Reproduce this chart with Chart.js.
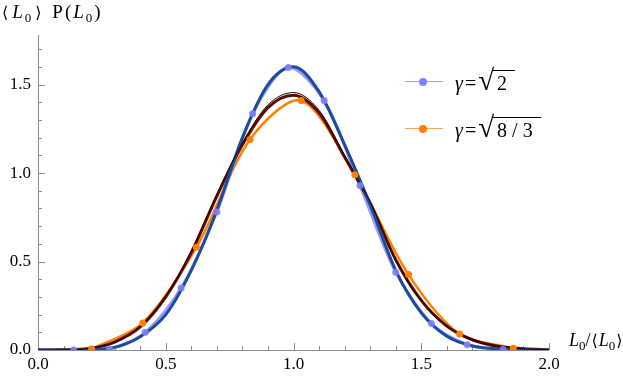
<!DOCTYPE html>
<html>
<head>
<meta charset="utf-8">
<script src="https://cdn.jsdelivr.net/npm/chart.js@4.4.1/dist/chart.umd.min.js"></script>
<style>
html, body { margin: 0; padding: 0; background: #fff; }
#wrap { position: relative; width: 623px; height: 378px; }
#wrap canvas { position: absolute; left: 0; top: 0; }
.lbl { position: absolute; font-family: 'Liberation Serif', 'Times New Roman', serif; font-size: 19px; color: #000; white-space: nowrap; line-height: 1; }
.lbl sub { font-size: 13px; vertical-align: -4px; line-height: 0; }
.ang { font-family: 'DejaVu Serif', serif; font-size: 16px; margin: 0 1px; }
.top .ang { margin: 0 2px; }
.leg { font-size: 20px; }
.eq { margin: 0 2px; }
.rt { font-size: 29px; line-height: 0; }
.rad { position: relative; padding: 0 8px 0 3px; }
.rad::before { content: ''; position: absolute; left: -1px; right: 0; top: -2px; border-top: 1.3px solid #000; }
.sw { position: absolute; height: 0; }
.dot { position: absolute; width: 8px; height: 8px; border-radius: 50%; }
</style>
</head>
<body>
<div id="wrap">
  <canvas id="chart" width="623" height="378"></canvas>
  <div class="lbl top" style="left:0px;top:2px;letter-spacing:2px"><span class="ang">⟨</span><i>L</i><sub>0</sub><span class="ang">⟩</span>&nbsp;P(<i>L</i><sub>0</sub>)</div>
  <div class="lbl" style="left:569px;top:331px;font-size:18px"><i>L</i><sub>0</sub>/<span class="ang">⟨</span><i>L</i><sub>0</sub><span class="ang">⟩</span></div>

  <div class="sw" style="left:405px;top:81px;width:38px;border-top:1.5px solid #9a9aff"></div>
  <div class="dot" style="left:419px;top:78px;background:#8080ff"></div>
  <div class="lbl leg" style="left:455px;top:73px"><i>γ</i><span class="eq">=</span><span class="rt">√</span><span class="rad">2</span></div>

  <div class="sw" style="left:405px;top:128px;width:38px;border-top:1.5px solid #ffa54d"></div>
  <div class="dot" style="left:419px;top:125px;background:#ff8000"></div>
  <div class="lbl leg" style="left:455px;top:120px"><i>γ</i><span class="eq">=</span><span class="rt">√</span><span class="rad">8 / 3</span></div>
</div>
<script>
// simulation points
const blueX = [0.14, 0.28, 0.42, 0.56, 0.70, 0.84, 0.98, 1.12, 1.26, 1.40, 1.54, 1.68, 1.82];
const blueY = [0.0, 0.005, 0.10, 0.35, 0.78, 1.335, 1.597, 1.41, 0.93, 0.44, 0.15, 0.03, 0.003];

const orangeX = [0.21, 0.41, 0.62, 0.83, 1.03, 1.24, 1.45, 1.65, 1.86];
const orangeY = [0.005, 0.153, 0.58, 1.19, 1.41, 0.99, 0.426, 0.09, 0.01];

// theory curves, read every 0.1
const fitX = [0.0, 0.1, 0.2, 0.3, 0.4, 0.5, 0.6, 0.7, 0.8, 0.9, 1.0, 1.1, 1.2, 1.3, 1.4, 1.5, 1.6, 1.7, 1.8, 1.9, 2.0];
const blueFit = [0, 0, 0.002, 0.015, 0.075, 0.20, 0.45, 0.79, 1.20, 1.50, 1.60, 1.46, 1.16, 0.82, 0.45, 0.21, 0.078, 0.023, 0.006, 0.001, 0];
const brownFit = [0, 0.001, 0.008, 0.045, 0.13, 0.30, 0.55, 0.87, 1.16, 1.37, 1.44, 1.34, 1.09, 0.83, 0.51, 0.28, 0.135, 0.058, 0.021, 0.007, 0.002];
const brownFit2 = [0, 0.001, 0.008, 0.045, 0.13, 0.30, 0.56, 0.88, 1.17, 1.385, 1.455, 1.355, 1.10, 0.835, 0.51, 0.28, 0.135, 0.058, 0.021, 0.007, 0.002];

const xTicks = [0.0, 0.5, 1.0, 1.5, 2.0];
const yTicks = [0.0, 0.5, 1.0, 1.5];

const pts = (xs, ys) => xs.map((x, i) => ({ x: x, y: ys[i] }));

const SERIF = "'Liberation Serif', 'Times New Roman', serif";

// axis lines with inward major/minor ticks
const axesPlugin = {
    id: 'axes',
    beforeDatasetsDraw(chart) {
        const { ctx, chartArea: a, scales: { x, y } } = chart;
        ctx.save();
        ctx.strokeStyle = '#8c8c8c';
        ctx.lineWidth = 1;
        ctx.beginPath();
        ctx.moveTo(a.left + 0.5, a.top);
        ctx.lineTo(a.left + 0.5, a.bottom + 0.5);
        ctx.lineTo(a.right, a.bottom + 0.5);
        for (let i = 1; i <= 20; i++) {
            const px = Math.round(x.getPixelForValue(i / 10)) + 0.5;
            const len = (i % 5 === 0) ? 7 : 4;
            ctx.moveTo(px, a.bottom);
            ctx.lineTo(px, a.bottom - len);
        }
        for (let i = 1; i <= 17; i++) {
            const py = Math.round(y.getPixelForValue(i / 10)) + 0.5;
            const len = (i % 5 === 0) ? 7 : 4;
            ctx.moveTo(a.left, py);
            ctx.lineTo(a.left + len, py);
        }
        ctx.stroke();
        ctx.restore();
    }
};

new Chart(document.getElementById('chart'), {
    type: 'scatter',
    data: {
        datasets: [
            {
                data: pts(blueX, blueY),
                showLine: false,
                pointRadius: 3.5,
                pointBackgroundColor: 'rgba(128,128,255,0.9)',
                pointBorderWidth: 0
            },
            {
                data: pts(orangeX, orangeY),
                showLine: false,
                pointRadius: 3.5,
                pointBackgroundColor: '#ff8000',
                pointBorderWidth: 0
            },
            {
                data: pts(fitX, brownFit2),
                showLine: true,
                borderColor: '#2a0500',
                borderWidth: 1,
                pointRadius: 0,
                cubicInterpolationMode: 'monotone'
            },
            {
                data: pts(fitX, blueFit),
                showLine: true,
                borderColor: '#1b4c9c',
                borderWidth: 3,
                pointRadius: 0,
                cubicInterpolationMode: 'monotone'
            },
            {
                data: pts(fitX, brownFit),
                showLine: true,
                borderColor: '#5a0c02',
                borderWidth: 3,
                pointRadius: 0,
                cubicInterpolationMode: 'monotone'
            },
            {
                data: pts(blueX, blueY),
                showLine: true,
                borderColor: 'rgba(128,128,255,0.8)',
                borderWidth: 3,
                pointRadius: 0,
                tension: 0.3
            },
            {
                data: pts(orangeX, orangeY),
                showLine: true,
                borderColor: '#ff8000',
                borderWidth: 2.5,
                pointRadius: 0,
                tension: 0.3
            }
        ]
    },
    options: {
        responsive: false,
        animation: false,
        layout: { padding: { left: 0, right: 74, top: 35, bottom: 0 } },
        plugins: {
            legend: { display: false },
            tooltip: { enabled: false }
        },
        scales: {
            x: {
                type: 'linear',
                min: 0,
                max: 2,
                afterBuildTicks: s => { s.ticks = xTicks.map(v => ({ value: v })); },
                afterFit: s => { s.height = 28; },
                ticks: {
                    callback: v => v.toFixed(1),
                    font: { family: SERIF, size: 17 },
                    color: '#000',
                    padding: 4,
                    maxRotation: 0,
                    autoSkip: false
                },
                grid: { display: false, drawTicks: false },
                border: { display: false }
            },
            y: {
                type: 'linear',
                min: 0,
                max: 1.78,
                afterBuildTicks: s => { s.ticks = yTicks.map(v => ({ value: v })); },
                afterFit: s => { s.width = 38; },
                ticks: {
                    callback: v => v.toFixed(1),
                    font: { family: SERIF, size: 17 },
                    color: '#000',
                    padding: 7
                },
                grid: { display: false, drawTicks: false },
                border: { display: false }
            }
        }
    },
    plugins: [axesPlugin]
});
</script>
</body>
</html>
